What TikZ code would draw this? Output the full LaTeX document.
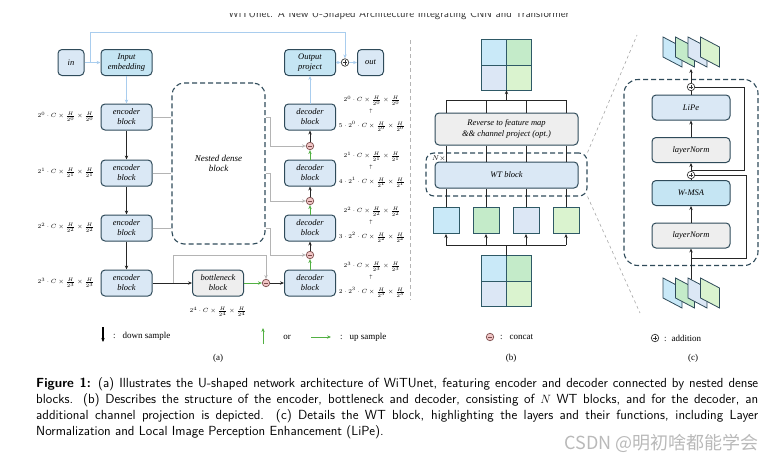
\documentclass[tikz,border=0pt]{standalone}
\usepackage{fontspec}
\setmainfont{Liberation Serif}
\newfontfamily\cjkfont{Noto Sans CJK SC}
\usetikzlibrary{arrows.meta,positioning,calc}

\definecolor{edgeblue}{HTML}{2F4B5A}
\definecolor{blockblue}{HTML}{DAE8F5}
\definecolor{projcyan}{HTML}{C5E5F3}
\definecolor{normgray}{HTML}{EEEEEE}
\definecolor{skipcol}{HTML}{A9CDEE}
\definecolor{graycol}{HTML}{B4B4B4}
\definecolor{upgreen}{HTML}{52B043}
\definecolor{tilecyan}{HTML}{C9E9F8}
\definecolor{tilegreen}{HTML}{C4EBC9}
\definecolor{tileblue}{HTML}{DCE7F5}
\definecolor{tilelime}{HTML}{DAF3CF}
\definecolor{concatpink}{HTML}{F1C6C6}
\definecolor{catedge}{HTML}{7A4A4A}
\definecolor{gridline}{HTML}{2E5966}

\newcommand{\fillgrid}[1]{%
  \fill[tilecyan] (#1.north west) rectangle (#1.center);
  \fill[tilegreen] (#1.north east) rectangle (#1.center);
  \fill[tileblue] (#1.south west) rectangle (#1.center);
  \fill[tilelime] (#1.south east) rectangle (#1.center);
  \draw[gridline,line width=1pt] (#1.north) -- (#1.south) (#1.west) -- (#1.east)
    (#1.north west) rectangle (#1.south east);}

\newcommand{\sheets}[2]{%
  \foreach \k/\c in {0/tilecyan,1/tilegreen,2/tileblue,3/tilelime}
    \filldraw[fill=\c,draw=edgeblue,line width=0.8pt] (#1+12.5*\k,#2) -- ++(19,10) -- ++(0,20) -- ++(-19,-10) -- cycle;}

\begin{document}
\begin{tikzpicture}[x=1pt,y=-1pt,>={Stealth[length=4pt,width=3.4pt]},
  block/.style={draw=edgeblue,line width=1pt,rounded corners=4pt,fill=blockblue,
    minimum width=51pt,minimum height=26pt,inner sep=1pt,align=center,
    font=\fontsize{8.5}{10}\selectfont\itshape},
  projbox/.style={block,fill=projcyan},
  normbox/.style={block,fill=normgray},
  wideblock/.style={block,minimum width=78pt,minimum height=25pt},
  dimlab/.style={inner sep=0pt,font=\fontsize{6.2}{7}\selectfont},
  legtext/.style={inner sep=0pt,font=\fontsize{9}{10}\selectfont},
  flow/.style={->,line width=0.9pt,black!85},
  blueflow/.style={->,line width=1pt,skipcol},
  grayflow/.style={line width=1pt,graycol},
  treeline/.style={line width=0.9pt,black!85},
  groupbox/.style={draw=edgeblue,line width=1.1pt,dash pattern=on 5pt off 3pt},
  catnode/.style={circle,draw=catedge,fill=concatpink,line width=0.7pt,minimum size=7.5pt,inner sep=0pt,
    path picture={\draw[catedge,line width=0.6pt] ([xshift=-2.2pt]path picture bounding box.center) -- ([xshift=2.2pt]path picture bounding box.center);}},
  addnode/.style={circle,draw=black!80,fill=white,line width=0.7pt,minimum size=7.5pt,inner sep=0pt,
    path picture={\draw[line width=0.6pt] ([xshift=-2.2pt]path picture bounding box.center) -- ([xshift=2.2pt]path picture bounding box.center)
      ([yshift=-2.2pt]path picture bounding box.center) -- ([yshift=2.2pt]path picture bounding box.center);}},
  zoomline/.style={gray!70,dashed,line width=0.6pt}]

\useasboundingbox (0,0) rectangle (775,463);
\node[font=\sffamily\fontsize{11}{12}\selectfont,text=black!80,anchor=base] (title) at (399,17)
  {WiTUnet: A New U-Shaped Architecture Integrating CNN and Transformer};
\fill[white] (0,0) rectangle (775,13);

% (a)
\node[block,minimum width=26pt] (in) at (71,62.5) {in};
\node[projbox] (inemb) at (126.5,62.5) {Input\\embedding};
\node[projbox] (outproj) at (310,62.5) {Output\\project};
\node[addnode] (add) at (345,62.5) {};
\node[block,minimum width=26pt] (out) at (370.5,62.5) {out};

\node[groupbox,rounded corners=12pt,minimum width=93pt,minimum height=161pt,
  align=center,font=\fontsize{9}{10.5}\selectfont\itshape] (nested) at (218.5,163.5) {Nested dense\\block};

\foreach \i/\y/\p/\k in {1/117/0/5,2/173/1/4,3/228/2/3,4/283/3/2}{
  \node[block] (enc\i) at (126.5,\y) {encoder\\block};
  \node[block] (dec\i) at (310,\y) {decoder\\block};
  \node[dimlab] (encdim\i) at (66,\y) {$2^{\p}\cdot C\times\frac{H}{2^{\p}}\times\frac{H}{2^{\p}}$};
  \node[dimlab] (dectop\i) at (372,\y-16) {$2^{\p}\cdot C\times\frac{H}{2^{\p}}\times\frac{H}{2^{\p}}$};
  \node[dimlab,font=\fontsize{4.5}{4.5}\selectfont] (decarr\i) at (371,\y-5.5) {$\uparrow$};
  \node[dimlab] (decbot\i) at (372,\y+9.5) {$\k\cdot 2^{\p}\cdot C\times\frac{H}{2^{\p}}\times\frac{H}{2^{\p}}$};
}
\node[normbox] (bneck) at (218,283) {bottleneck\\block};
\node[dimlab] (bneckdim) at (218,312) {$2^{4}\cdot C\times\frac{H}{2^{4}}\times\frac{H}{2^{4}}$};

\node[catnode] (cat4) at (266,283) {};
\node[catnode] (cat3) at (310,255) {};
\node[catnode] (cat2) at (310,201) {};
\node[catnode] (cat1) at (310,146) {};

\draw[blueflow] (in) -- (inemb);
\coordinate (skipstart) at ($(in.east)+(6,0)$);
\draw[blueflow] (skipstart) -- ++(0,-30) -| (add.north);
\draw[blueflow] (inemb) -- (enc1);
\foreach \i/\j in {1/2,2/3,3/4}
  \draw[flow] (enc\i) -- (enc\j);
\foreach \i in {1,2,3}{
  \draw[grayflow] (enc\i.east) -- (enc\i.east -| nested.west);
  \draw[grayflow,->] (enc\i.east -| nested.east) -- ++(5,0) |- (cat\i.west);
}
\draw[flow] (enc4) -- (bneck);
\coordinate (bsplit) at (173,283);
\draw[grayflow,->] (bsplit) -- ++(0,-28) -| (cat4.north);
\draw[->,line width=1pt,upgreen] (bneck) -- (cat4);
\draw[flow] (cat4) -- (dec4);
\foreach \i/\j in {4/3,3/2,2/1}{
  \draw[->,line width=1pt,upgreen] (dec\i) -- (cat\j);
  \draw[flow] (cat\j) -- (dec\j);
}
\draw[blueflow] (dec1) -- (outproj);
\draw[blueflow] (outproj) -- (add);
\draw[blueflow] (add) -- (out);

\coordinate (downtip) at (103,342);
\draw[->,line width=1.1pt] (103,327) -- (downtip);
\node[legtext,anchor=west] (downlab) at (113,336) {:\hspace{7pt}down sample};
\coordinate (uptip) at (263,328);
\draw[->,line width=1pt,upgreen] (263,344) -- (uptip);
\node[legtext] (orlab) at (287,337) {or};
\coordinate (righttip) at (331,337);
\draw[->,line width=1pt,upgreen] (311,337) -- (righttip);
\node[legtext,anchor=west] (uplab) at (340,337) {:\hspace{7pt}up sample};
\node[legtext] (capa) at (218,358) {(a)};

\draw[graycol,line width=0.8pt,dash pattern=on 4pt off 3pt] (410,40) -- (410,300);

% (b)
\node[minimum size=50pt,inner sep=0pt] (topgrid) at (506.5,65) {};
\fillgrid{topgrid}
\node[normbox,minimum width=143pt,minimum height=32pt,font=\fontsize{8.5}{11}\selectfont\itshape] (rev) at (506.5,129)
  {Reverse to feature map\\\&\& channel project (opt.)};
\node[groupbox,rounded corners=8pt,minimum width=161pt,minimum height=43pt] (wtgroup) at (506.5,174.5) {};
\node[block,minimum width=143pt] (wt) at (506.5,175) {WT block};
\node[inner sep=0pt,font=\fontsize{7}{8}\selectfont,anchor=north west] (nlab) at (432,156) {$N\times$};
\foreach \i/\x/\c in {1/446/tilecyan,2/486/tilegreen,3/526/tileblue,4/566/tilelime}{
  \node[draw=gridline,fill=\c,line width=1pt,minimum size=26pt,inner sep=0pt] (sq\i) at (\x,220.5) {};
  \draw[treeline] (sq\i.north) -- (sq\i.north |- wt.south);
  \draw[treeline] (sq\i.north |- wt.north) -- (sq\i.north |- rev.south);
}
\coordinate (toptree) at (506.5,100);
\foreach \i in {1,...,4}
  \draw[treeline] (sq\i.north |- rev.north) -- (sq\i.north |- toptree);
\draw[treeline] (sq1.north |- toptree) -- (sq4.north |- toptree);
\draw[treeline,->] (toptree) -- (topgrid.south);
\node[minimum size=50pt,inner sep=0pt] (botgrid) at (506.5,281) {};
\fillgrid{botgrid}
\coordinate (bottree) at (506.5,245);
\draw[treeline] (botgrid.north) -- (bottree);
\draw[treeline] (sq1.south |- bottree) -- (sq4.south |- bottree);
\foreach \i in {1,...,4}
  \draw[treeline,->] (sq\i.south |- bottree) -- (sq\i.south);
\node[catnode] (catleg) at (490,337) {};
\node[legtext,anchor=west] (catlab) at (500,337) {:\hspace{7pt}concat};
\node[legtext] (capb) at (511,358) {(b)};

\coordinate (zoomtop) at (637,35);
\coordinate (zoombot) at (640,313);
\draw[zoomline] (wtgroup.north east) -- (zoomtop);
\draw[zoomline] (wtgroup.south east) -- (zoombot);

% (c)
\node[groupbox,rounded corners=14pt,minimum width=134pt,minimum height=186pt] (wtc) at (691,172.5) {};
\node[wideblock] (lipe) at (691,107.5) {LiPe};
\node[wideblock,fill=normgray] (lnb) at (691,150) {layerNorm};
\node[wideblock,fill=projcyan] (wmsa) at (691,193) {W-MSA};
\node[wideblock,fill=normgray] (lna) at (691,235.5) {layerNorm};
\node[addnode] (addtop) at (691,87) {};
\node[addnode] (addmid) at (691,175) {};

\coordinate (wtin) at (691,281);
\coordinate (resin) at (691,258);
\coordinate (outsheet) at (691,69);
\draw[flow] (wtin) -- (lna);
\draw[treeline] (resin) -- ++(55,0) |- (addmid.east);
\draw[treeline] (addmid.north) -- ++(53,0) |- (addtop.east);
\draw[flow] (lna) -- (wmsa);
\draw[treeline] (wmsa) -- (addmid);
\draw[flow] (addmid) -- (lnb);
\draw[flow] (lnb) -- (lipe);
\draw[treeline] (lipe) -- (addtop);
\draw[flow] (addtop) -- (outsheet);
\sheets{663}{37}
\sheets{663}{278}

\node[addnode] (addleg) at (655,338) {};
\node[legtext,anchor=west] (addlab) at (664,338) {:\hspace{5pt}addition};
\node[legtext] (capc) at (693,358) {(c)};

% caption
\node[anchor=north west,inner sep=0pt,text width=722pt,align=justify,
  font=\sffamily\fontsize{13.2}{16}\selectfont] (caption) at (36,377)
  {\textbf{Figure 1:} (a) Illustrates the U-shaped network architecture of WiTUnet, featuring encoder and decoder connected by nested dense\linebreak
  blocks. (b) Describes the structure of the encoder, bottleneck and decoder, consisting of $N$ WT blocks, and for the decoder, an\linebreak
  additional channel projection is depicted. (c) Details the WT block, highlighting the layers and their functions, including Layer\linebreak
  Normalization and Local Image Perception Enhancement (LiPe).};
\node[anchor=east,inner sep=0pt,font=\cjkfont\fontsize{18}{18}\selectfont,text=gray!55] (mark) at (759,443) {CSDN @明初啥都能学会};
\end{tikzpicture}
\end{document}
